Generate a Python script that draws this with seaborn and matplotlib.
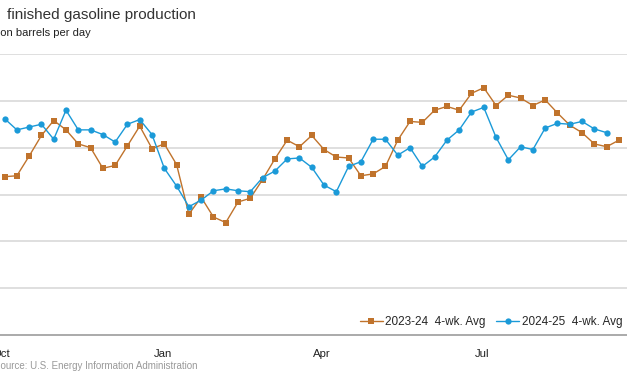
import pandas as pd
import matplotlib
matplotlib.use('Agg')
import matplotlib.pyplot as plt
import matplotlib.dates as mdates
import seaborn as sns

# weekly 4-wk avg, million barrels per day
vals_2324 = [9.19, 9.20, 9.41, 9.63, 9.79, 9.69, 9.54, 9.50, 9.28, 9.31,
             9.52, 9.73, 9.49, 9.54, 9.32, 8.79, 8.97, 8.76, 8.70, 8.92,
             8.96, 9.16, 9.38, 9.58, 9.51, 9.63, 9.48, 9.40, 9.39, 9.20,
             9.22, 9.30, 9.58, 9.78, 9.77, 9.90, 9.94, 9.90, 10.08, 10.14,
             9.95, 10.06, 10.03, 9.95, 10.01, 9.87, 9.74, 9.66, 9.54, 9.51,
             9.58]
vals_2425 = [9.81, 9.69, 9.72, 9.75, 9.59, 9.90, 9.69, 9.69, 9.64, 9.56,
             9.75, 9.80, 9.64, 9.28, 9.09, 8.87, 8.94, 9.04, 9.06, 9.04,
             9.03, 9.18, 9.25, 9.38, 9.39, 9.29, 9.10, 9.03, 9.30, 9.35,
             9.59, 9.59, 9.42, 9.50, 9.30, 9.40, 9.58, 9.69, 9.88, 9.93,
             9.61, 9.37, 9.51, 9.48, 9.71, 9.76, 9.75, 9.78, 9.70, 9.66]
series_labels = ['2023-24  4-wk. Avg', '2024-25  4-wk. Avg']
month_ticks = ['2023-10-01', '2024-01-01', '2024-04-01', '2024-07-01']

# both seasons on one Oct-Sep calendar
weeks = pd.date_range('2023-10-03', periods=len(vals_2324), freq='7D')
df = pd.concat([
    pd.DataFrame({'week': weeks, 'value': vals_2324, 'season': series_labels[0]}),
    pd.DataFrame({'week': weeks[:len(vals_2425)], 'value': vals_2425, 'season': series_labels[1]}),
])

sns.set_style('white')
plt.rcParams['font.family'] = ['Liberation Sans', 'DejaVu Sans']

fig = plt.figure(figsize=(6.27, 3.76), dpi=100)
ax = fig.add_axes([0, 41 / 376, 1, 281 / 376])

sns.lineplot(data=df, x='week', y='value', hue='season', style='season',
             palette=['#c0732c', '#1b9ad8'], markers=['s', 'o'], dashes=False,
             markersize=4.5, markeredgewidth=0, linewidth=1.0, ax=ax)

ax.set_ylim(7.5, 10.5)
ax.set_yticks([8.0, 8.5, 9.0, 9.5, 10.0, 10.5])
ax.set_yticklabels([])
ax.tick_params(axis='y', length=0)
ax.grid(axis='y', color='#d9d9d9', linewidth=1.2)

x0 = pd.Timestamp('2023-10-01')
ax.set_xlim(x0 - pd.Timedelta(days=0.6), x0 + pd.Timedelta(days=356.6))
ax.set_xticks(pd.to_datetime(month_ticks))
ax.xaxis.set_major_formatter(mdates.DateFormatter('%b'))
ax.tick_params(axis='x', length=3, width=1, color='#aaaaaa', labelsize=8.2,
               pad=7, labelcolor='#222222')
ax.set_xlabel('')
ax.set_ylabel('')

for side in ['top', 'right', 'left']:
    ax.spines[side].set_visible(False)
ax.spines['bottom'].set_color('#aaaaaa')
ax.spines['bottom'].set_linewidth(1.4)

ax.legend(loc='lower left', bbox_to_anchor=(353 / 627, 0.0), ncol=2,
          frameon=False, fontsize=8.5, handlelength=1.9, handletextpad=0.25,
          columnspacing=0.9, borderaxespad=0.2)

fig.text(7 / 627, 1 - 15 / 376, 'finished gasoline production', fontsize=11,
         color='#333333', va='center', ha='left')
fig.text(-19 / 627, 1 - 33 / 376, 'million barrels per day', fontsize=8,
         color='#222222', va='center', ha='left')
fig.text(-6 / 627, 1 - 366 / 376, 'Source: U.S. Energy Information Administration',
         fontsize=7.0, color='#999999', va='center', ha='left')

fig.savefig('out.png', dpi=100)
